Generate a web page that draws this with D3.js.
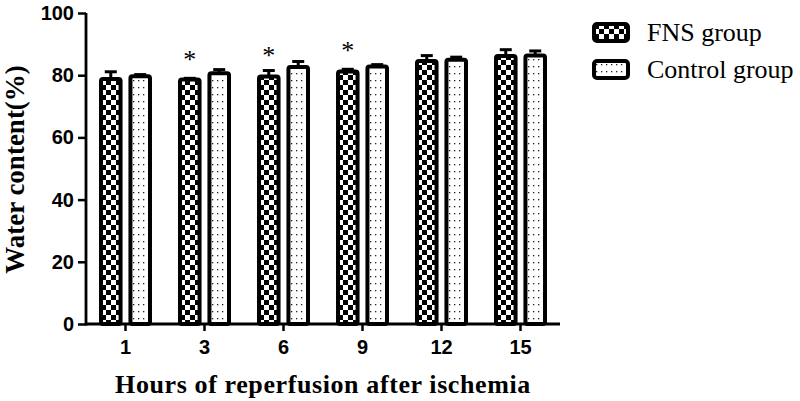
<!DOCTYPE html>
<html>
<head>
<meta charset="utf-8">
<script src="https://cdn.jsdelivr.net/npm/d3@7"></script>
<style>
  html, body { margin: 0; padding: 0; background: #fff; }
  svg { display: block; }
</style>
</head>
<body>
<svg id="chart" width="800" height="401"></svg>
<script>
// ---- data ----
const categories = ["1", "3", "6", "9", "12", "15"];
const seriesNames = ["FNS group", "Control group"];
const fnsValues = [78.8, 78.6, 79.6, 81.2, 84.6, 86.2];
const fnsErrors = [2.3, 0.4, 1.9, 0.7, 1.7, 2.0];
const controlValues = [79.7, 80.6, 82.6, 82.8, 85.0, 86.3];
const controlErrors = [0.5, 1.2, 1.8, 0.6, 0.8, 1.5];
const significant = [false, true, true, true, false, false];
const yTicks = [0, 20, 40, 60, 80, 100];
const yTitle = "Water content(%)";
const xTitle = "Hours of reperfusion after ischemia";

// ---- layout ----
const svg = d3.select("#chart");
const mLeft = 86, mRight = 560, mTop = 13, mBottom = 324;

const x0 = d3.scaleBand().domain(categories).range([mLeft, mRight]).paddingInner(0).paddingOuter(0);
const x1 = d3.scaleBand().domain(seriesNames).range([13, 66]).paddingInner(0.2);
const y = d3.scaleLinear().domain([0, 100]).range([mBottom, mTop]);

// patterns
const defs = svg.append("defs");
const checker = defs.append("pattern").attr("id", "checker")
  .attr("patternUnits", "userSpaceOnUse").attr("width", 10).attr("height", 10);
checker.append("rect").attr("width", 10).attr("height", 10).attr("fill", "#fff");
checker.append("rect").attr("x", 0).attr("y", 0).attr("width", 5).attr("height", 5).attr("fill", "#000");
checker.append("rect").attr("x", 5).attr("y", 5).attr("width", 5).attr("height", 5).attr("fill", "#000");

const dots = defs.append("pattern").attr("id", "dots")
  .attr("patternUnits", "userSpaceOnUse").attr("width", 5).attr("height", 7);
dots.append("rect").attr("width", 5).attr("height", 7).attr("fill", "#fff");
dots.append("rect").attr("x", 2).attr("y", 3).attr("width", 1.3).attr("height", 1.3).attr("fill", "#222");

const fills = { "FNS group": "url(#checker)", "Control group": "url(#dots)" };

const rows = categories.map((c, i) => ({
  cat: c,
  sig: significant[i],
  items: [
    { s: "FNS group", v: fnsValues[i], e: fnsErrors[i] },
    { s: "Control group", v: controlValues[i], e: controlErrors[i] }
  ]
}));

const sw = 4;
const groups = svg.append("g").selectAll("g").data(rows).join("g")
  .attr("transform", d => `translate(${x0(d.cat)},0)`);

// error bars
groups.selectAll("g.err").data(d => d.items).join("g").attr("class", "err")
  .each(function(d) {
    const g = d3.select(this);
    const cx = x1(d.s) + x1.bandwidth() / 2;
    g.append("line").attr("x1", cx).attr("x2", cx)
      .attr("y1", y(d.v)).attr("y2", y(d.v + d.e))
      .attr("stroke", "#000").attr("stroke-width", 3);
    g.append("line").attr("x1", cx - 6).attr("x2", cx + 6)
      .attr("y1", y(d.v + d.e)).attr("y2", y(d.v + d.e))
      .attr("stroke", "#000").attr("stroke-width", 3);
  });

groups.selectAll("rect.bar").data(d => d.items).join("rect").attr("class", "bar")
  .attr("x", d => x1(d.s) + sw / 2)
  .attr("width", x1.bandwidth() - sw)
  .attr("y", d => y(d.v))
  .attr("height", d => y(0) - y(d.v))
  .attr("rx", 2)
  .attr("fill", d => fills[d.s])
  .attr("stroke", "#000")
  .attr("stroke-width", sw);

// significance asterisks
groups.filter(d => d.sig).append("text")
  .attr("x", x1("FNS group") + x1.bandwidth() / 2)
  .attr("y", d => y(d.items[0].v) - 12)
  .attr("text-anchor", "middle")
  .attr("font-family", "Liberation Serif, Times New Roman, serif")
  .attr("font-size", 26)
  .text("*");

// axes
const yAxis = svg.append("g").attr("transform", `translate(${mLeft},0)`)
  .call(d3.axisLeft(y).tickValues(yTicks).tickSize(8).tickPadding(4));
const xAxis = svg.append("g").attr("transform", `translate(0,${mBottom})`)
  .call(d3.axisBottom(x0).tickSize(7).tickPadding(9).tickSizeOuter(0));

[yAxis, xAxis].forEach(a => {
  a.select(".domain").attr("stroke", "#000").attr("stroke-width", 2.8);
  a.selectAll(".tick line").attr("stroke", "#000").attr("stroke-width", 2.5);
  a.selectAll(".tick text")
    .attr("fill", "#000")
    .attr("font-family", "Liberation Sans, Arial, sans-serif")
    .attr("font-weight", "bold")
    .attr("font-size", 20);
});
yAxis.select(".domain").attr("d", `M0,${mBottom + 1.4}V${mTop}`);
xAxis.select(".domain").attr("d", `M${mLeft},0H${mRight}`);

// titles
svg.append("text")
  .attr("transform", `translate(24,${(mTop + mBottom) / 2 + 1}) rotate(-90)`)
  .attr("text-anchor", "middle")
  .attr("font-family", "Liberation Serif, Times New Roman, serif")
  .attr("font-weight", "bold")
  .attr("font-size", 27)
  .text(yTitle);

svg.append("text")
  .attr("x", 323).attr("y", 393)
  .attr("text-anchor", "middle")
  .attr("font-family", "Liberation Serif, Times New Roman, serif")
  .attr("font-weight", "bold")
  .attr("font-size", 26)
  .attr("letter-spacing", 0.6)
  .text(xTitle);

// legend
const legend = svg.append("g").selectAll("g").data(seriesNames).join("g")
  .attr("transform", (d, i) => `translate(594,${24 + i * 37})`);
legend.append("rect")
  .attr("width", 34).attr("height", 17).attr("rx", 3)
  .attr("fill", d => fills[d])
  .attr("stroke", "#000").attr("stroke-width", 4);
legend.append("text")
  .attr("x", 53).attr("y", 17)
  .attr("font-family", "Liberation Serif, Times New Roman, serif")
  .attr("font-size", 26)
  .attr("fill", "#000")
  .text(d => d);
</script>
</body>
</html>
